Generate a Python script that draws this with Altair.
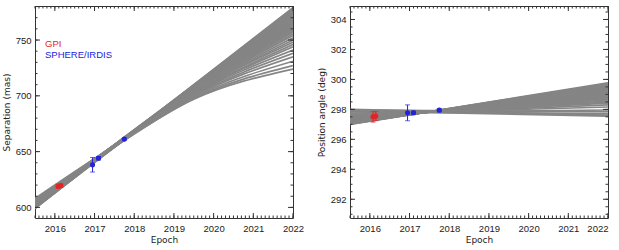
import altair as alt
import pandas as pd

# ---------------- data ----------------
sep_epochs = [2015.5, 2017.5, 2019.5, 2022.0]
sep_tracks = [
    [599.0, 655.2, 710.0, 779.0],
    [599.2, 654.0, 709.8, 778.0],
    [599.3, 655.8, 709.5, 777.0],
    [599.5, 654.6, 709.3, 776.0],
    [599.7, 656.1, 709.1, 775.0],
    [599.8, 653.9, 708.8, 774.0],
    [600.0, 655.0, 708.6, 773.0],
    [600.1, 655.6, 708.3, 772.0],
    [600.3, 654.3, 708.1, 771.0],
    [600.5, 656.3, 707.9, 770.0],
    [600.6, 654.8, 707.6, 769.0],
    [600.8, 655.4, 707.4, 768.0],
    [601.0, 653.8, 707.2, 767.0],
    [601.1, 655.9, 706.9, 766.0],
    [601.3, 654.5, 706.7, 765.0],
    [601.5, 655.1, 706.5, 764.0],
    [601.6, 656.0, 706.2, 763.0],
    [601.8, 654.2, 706.0, 762.0],
    [601.9, 655.5, 705.7, 761.0],
    [602.1, 654.7, 705.5, 760.0],
    [602.3, 655.8, 705.3, 759.0],
    [602.4, 654.1, 705.0, 758.0],
    [602.6, 655.3, 704.8, 757.0],
    [602.8, 656.2, 704.4, 755.5],
    [603.1, 654.4, 704.1, 754.0],
    [603.4, 655.0, 703.6, 752.0],
    [603.7, 655.7, 703.1, 750.0],
    [604.1, 654.0, 702.7, 748.0],
    [604.4, 655.4, 702.2, 746.0],
    [604.7, 656.0, 701.7, 744.0],
    [605.2, 654.6, 701.0, 741.0],
    [605.7, 655.2, 700.3, 738.0],
    [606.2, 654.9, 699.6, 735.0],
    [606.9, 655.6, 698.7, 731.0],
    [607.5, 654.3, 697.7, 727.0],
    [608.0, 655.0, 697.0, 724.0],
]

pa_epochs = [2015.5, 2022.0]
pa_tracks = [
    [296.99, 299.77], [297.01, 299.72], [297.03, 299.66], [297.06, 299.60],
    [297.08, 299.54], [297.11, 299.48], [297.13, 299.42], [297.16, 299.36],
    [297.18, 299.30], [297.21, 299.24], [297.23, 299.18], [297.25, 299.12],
    [297.28, 299.06], [297.30, 299.00], [297.33, 298.94], [297.35, 298.88],
    [297.38, 298.82], [297.40, 298.76], [297.43, 298.70], [297.46, 298.63],
    [297.49, 298.56], [297.52, 298.48], [297.55, 298.42], [297.60, 298.30],
    [297.67, 298.16], [297.75, 297.96], [297.84, 297.72], [297.90, 297.55],
    [298.00, 297.62], [297.95, 297.84],
]

gpi_epoch = [2016.08, 2016.15]
gpi_sep = [619.0, 619.6]
gpi_sep_err = [1.8, 1.5]
gpi_pa = [297.50, 297.55]
gpi_pa_err = [0.35, 0.30]

sphere_epoch = [2016.95, 2017.10, 2017.75]
sphere_sep = [638.2, 644.1, 661.2]
sphere_sep_err = [6.5, 1.5, 1.0]
sphere_pa = [297.77, 297.77, 297.95]
sphere_pa_err = [0.53, 0.12, 0.10]

legend_labels = ["GPI", "SPHERE/IRDIS"]

x_major = [2016, 2017, 2018, 2019, 2020, 2021, 2022]
x_minor = [round(2015.5 + 0.1 * i, 2) for i in range(66)]
sep_major = [600, 650, 700, 750]
sep_minor = [600 + 10 * i for i in range(19)]
pa_major = [292, 294, 296, 298, 300, 302, 304]
pa_minor = [291 + 0.5 * i for i in range(28)]

# ---------------- style ----------------
FONT = "Liberation Sans"
TFONT = "DejaVu Sans"
RED = "#e62222"
BLUE = "#2222dd"
LINE = "#858585"
TICK = "#333333"
W, H = 258, 212


def tracks_df(epochs, tracks):
    rows = []
    for i, tr in enumerate(tracks):
        for e, v in zip(epochs, tr):
            rows.append({"epoch": e, "val": v, "track": i})
    return pd.DataFrame(rows)


def obs_df(ep, val, err):
    return pd.DataFrame({"epoch": ep, "val": val,
                         "lo": [v - e for v, e in zip(val, err)],
                         "hi": [v + e for v, e in zip(val, err)]})


def panel(tdf, gpi, sph, domain, y_title, y_major, y_minor, flush, legend):
    xs = alt.Scale(domain=[2015.5, 2022], nice=False, zero=False)
    ys = alt.Scale(domain=domain, nice=False, zero=False)
    xax = alt.Axis(values=x_major, format="d", labelFlush=flush, ticks=False,
                   domain=False, grid=False, labelPadding=5, titlePadding=3)
    yax = alt.Axis(values=y_major, format="d", labelFlush=False, ticks=False,
                   domain=False, grid=False, labelPadding=4, titlePadding=4)

    def X(f):
        return alt.X(f"{f}:Q", scale=xs, axis=xax, title="Epoch")

    def Y(f):
        return alt.Y(f"{f}:Q", scale=ys, axis=yax, title=y_title)

    layers = []
    layers.append(alt.Chart(tdf).mark_line(color=LINE, strokeWidth=1.7, interpolate="monotone", clip=True)
                  .encode(x=X("epoch"), y=Y("val"), detail="track:N"))
    for df, col in ((gpi, RED), (sph, BLUE)):
        base = alt.Chart(df)
        layers.append(base.mark_rule(color=col, strokeWidth=1).encode(x=X("epoch"), y=Y("lo"), y2="hi:Q"))
        layers.append(base.mark_tick(color=col, orient="horizontal", size=5, thickness=1).encode(x=X("epoch"), y=Y("lo")))
        layers.append(base.mark_tick(color=col, orient="horizontal", size=5, thickness=1).encode(x=X("epoch"), y=Y("hi")))
        layers.append(base.mark_point(color=col, filled=True, shape="circle", size=26, opacity=1)
                      .encode(x=X("epoch"), y=Y("val")))

    xmaj = alt.Chart(pd.DataFrame({"t": x_major}))
    xmin = alt.Chart(pd.DataFrame({"t": x_minor}))
    ymaj = alt.Chart(pd.DataFrame({"t": y_major}))
    ymin = alt.Chart(pd.DataFrame({"t": y_minor}))
    for c, ln in ((xmaj, 5), (xmin, 2.5)):
        layers.append(c.mark_rule(color=TICK, strokeWidth=1).encode(x=X("t"), y=alt.value(H), y2=alt.value(H - ln)))
        layers.append(c.mark_rule(color=TICK, strokeWidth=1).encode(x=X("t"), y=alt.value(0), y2=alt.value(ln)))
    for c, ln in ((ymaj, 5), (ymin, 2.5)):
        layers.append(c.mark_rule(color=TICK, strokeWidth=1).encode(y=Y("t"), x=alt.value(0), x2=alt.value(ln)))
        layers.append(c.mark_rule(color=TICK, strokeWidth=1).encode(y=Y("t"), x=alt.value(W), x2=alt.value(W - ln)))

    if legend:
        for lab, col, yy in ((legend_labels[0], RED, 38), (legend_labels[1], BLUE, 49)):
            layers.append(alt.Chart(pd.DataFrame({"label": [lab]}))
                          .mark_text(align="left", baseline="middle", font=FONT, fontSize=9.5, color=col)
                          .encode(x=alt.value(10), y=alt.value(yy), text="label:N"))
    return alt.layer(*layers).properties(width=W, height=H)


left = panel(tracks_df(sep_epochs, sep_tracks),
             obs_df(gpi_epoch, gpi_sep, gpi_sep_err),
             obs_df(sphere_epoch, sphere_sep, sphere_sep_err),
             [590.5, 780.5], "Separation (mas)", sep_major, sep_minor, False, True)
right = panel(tracks_df(pa_epochs, pa_tracks),
              obs_df(gpi_epoch, gpi_pa, gpi_pa_err),
              obs_df(sphere_epoch, sphere_pa, sphere_pa_err),
              [290.75, 304.9], "Position angle (deg)", pa_major, pa_minor, True, False)

chart = (alt.hconcat(left, right, spacing=11)
         .properties(padding={"left": 1, "top": 5, "right": 5, "bottom": 3})
         .configure_view(stroke=TICK, strokeWidth=1)
         .configure_axis(labelFont=FONT, titleFont=TFONT, labelFontSize=9.5, titleFontSize=9,
                         labelColor="#222222", titleColor="#222222", titleFontWeight="normal"))

chart.save("out.html", embed_options={"renderer": "svg", "actions": False})
